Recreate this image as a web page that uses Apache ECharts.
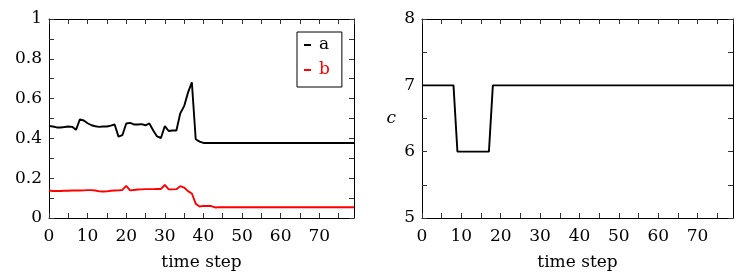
<!DOCTYPE html>
<html>
<head>
<meta charset="utf-8">
<script src="https://cdn.jsdelivr.net/npm/echarts@6/dist/echarts.min.js"></script>
<style>
html,body{margin:0;padding:0;background:#fff;}
#chart{width:751px;height:276px;}
</style>
</head>
<body>
<div id="chart"></div>
<script>
// time steps 0..79
var timeSteps = [];
for (var i = 0; i < 80; i++) timeSteps.push(i);

var seriesA = [0.462,0.460,0.455,0.455,0.457,0.460,0.458,0.443,0.496,0.490,
  0.476,0.466,0.461,0.458,0.460,0.460,0.464,0.470,0.409,0.416,
  0.475,0.478,0.470,0.470,0.472,0.466,0.475,0.440,0.410,0.402,
  0.462,0.437,0.440,0.440,0.526,0.562,0.630,0.682,0.396,0.384,
  0.377,0.377,0.377,0.377,0.377,0.377,0.377,0.377,0.377,0.377,
  0.377,0.377,0.377,0.377,0.377,0.377,0.377,0.377,0.377,0.377,
  0.377,0.377,0.377,0.377,0.377,0.377,0.377,0.377,0.377,0.377,
  0.377,0.377,0.377,0.377,0.377,0.377,0.377,0.377,0.377,0.377];

var seriesB = [0.138,0.136,0.136,0.136,0.137,0.137,0.138,0.138,0.138,0.139,
  0.140,0.140,0.138,0.134,0.133,0.134,0.137,0.138,0.139,0.141,
  0.161,0.139,0.141,0.143,0.144,0.145,0.145,0.145,0.146,0.146,
  0.166,0.144,0.144,0.145,0.160,0.153,0.135,0.123,0.072,0.058,
  0.061,0.060,0.060,0.053,0.054,0.054,0.054,0.054,0.054,0.054,
  0.054,0.054,0.054,0.054,0.054,0.054,0.054,0.054,0.054,0.054,
  0.054,0.054,0.054,0.054,0.054,0.054,0.054,0.054,0.054,0.054,
  0.054,0.054,0.054,0.054,0.054,0.054,0.054,0.054,0.054,0.054];

var seriesC = [7,7,7,7,7,7,7,7,7,6,6,6,6,6,6,6,6,6,
  7,7,7,7,7,7,7,7,7,7,7,7,7,7,7,7,7,7,7,7,7,7,
  7,7,7,7,7,7,7,7,7,7,7,7,7,7,7,7,7,7,7,7,
  7,7,7,7,7,7,7,7,7,7,7,7,7,7,7,7,7,7,7,7];

var xTickLabels = ['0','10','20','30','40','50','60','70'];
var leftYTickLabels = ['0','0.2','0.4','0.6','0.8','1'];
var rightYTickLabels = ['5','6','7','8'];

function pairs(xs, ys) { return xs.map(function (x, i) { return [x, ys[i]]; }); }

var FONT = 'DejaVu Serif';
var FS = 17;

function xAxisDef(gridIndex, top) {
  return {
    type: 'value', gridIndex: gridIndex, min: 0, max: 79, interval: 5,
    position: top ? 'top' : 'bottom',
    name: top ? '' : 'time step', nameLocation: 'middle', nameGap: 36,
    nameTextStyle: {fontFamily: FONT, fontSize: FS, color: '#000'},
    axisLine: {show: true, onZero: false, lineStyle: {color: '#000', width: 1}},
    axisTick: {show: true, inside: true, length: 5, lineStyle: {color: '#333', width: 1}},
    splitLine: {show: false},
    axisLabel: {
      show: !top, margin: 10, fontFamily: FONT, fontSize: FS, color: '#000', showMaxLabel: false,
      formatter: function (v) { var s = String(v); return xTickLabels.indexOf(s) >= 0 ? s : ''; }
    }
  };
}

function yAxisDef(gridIndex, right, min, max, interval, labels, name) {
  return {
    type: 'value', gridIndex: gridIndex, min: min, max: max, interval: interval,
    position: right ? 'right' : 'left',
    name: right ? '' : name, nameLocation: 'middle', nameGap: 26, nameRotate: 0,
    nameTextStyle: {fontFamily: FONT, fontSize: FS, fontStyle: 'italic', color: '#000'},
    axisLine: {show: true, onZero: false, lineStyle: {color: '#000', width: 1}},
    axisTick: {show: true, inside: true, length: 5, lineStyle: {color: '#333', width: 1}},
    splitLine: {show: false},
    axisLabel: {
      show: !right, margin: 7, fontFamily: FONT, fontSize: FS, color: '#000',
      formatter: function (v) {
        var s = String(Math.round(v * 10) / 10);
        return labels.indexOf(s) >= 0 ? s : '';
      }
    }
  };
}

var chart = echarts.init(document.getElementById('chart'), null, {renderer: 'canvas'});
chart.setOption({
  animation: false,
  backgroundColor: '#fff',
  grid: [
    {left: 49, top: 19, width: 305, height: 200},
    {left: 422, top: 19, width: 311, height: 200}
  ],
  xAxis: [xAxisDef(0, false), xAxisDef(0, true), xAxisDef(1, false), xAxisDef(1, true)],
  yAxis: [
    yAxisDef(0, false, 0, 1, 0.1, leftYTickLabels, ''),
    yAxisDef(0, true, 0, 1, 0.1, leftYTickLabels, ''),
    yAxisDef(1, false, 5, 8, 0.5, rightYTickLabels, 'c'),
    yAxisDef(1, true, 5, 8, 0.5, rightYTickLabels, '')
  ],
  legend: {
    left: 297, top: 32, orient: 'vertical',
    padding: [3, 12, 7, 7], itemGap: 5,
    borderColor: '#000', borderWidth: 1, backgroundColor: '#fff',
    icon: 'rect', itemWidth: 7, itemHeight: 2, itemStyle: {borderWidth: 0},
    textStyle: {fontFamily: FONT, fontSize: FS, lineHeight: 20, padding: [0, 0, 0, 3]},
    data: [
      {name: 'a', textStyle: {color: '#000'}},
      {name: 'b', textStyle: {color: '#ff0000'}}
    ]
  },
  series: [
    {name: 'a', type: 'line', xAxisIndex: 0, yAxisIndex: 0, data: pairs(timeSteps, seriesA),
     showSymbol: false, symbol: 'none', lineStyle: {color: '#000', width: 1.9}, itemStyle: {color: '#000'}},
    {name: 'b', type: 'line', xAxisIndex: 0, yAxisIndex: 0, data: pairs(timeSteps, seriesB),
     showSymbol: false, symbol: 'none', lineStyle: {color: '#ff0000', width: 1.9}, itemStyle: {color: '#ff0000'}},
    {name: 'c', type: 'line', xAxisIndex: 2, yAxisIndex: 2, data: pairs(timeSteps, seriesC),
     showSymbol: false, symbol: 'none', lineStyle: {color: '#000', width: 1.9}, itemStyle: {color: '#000'}}
  ]
});
</script>
</body>
</html>
